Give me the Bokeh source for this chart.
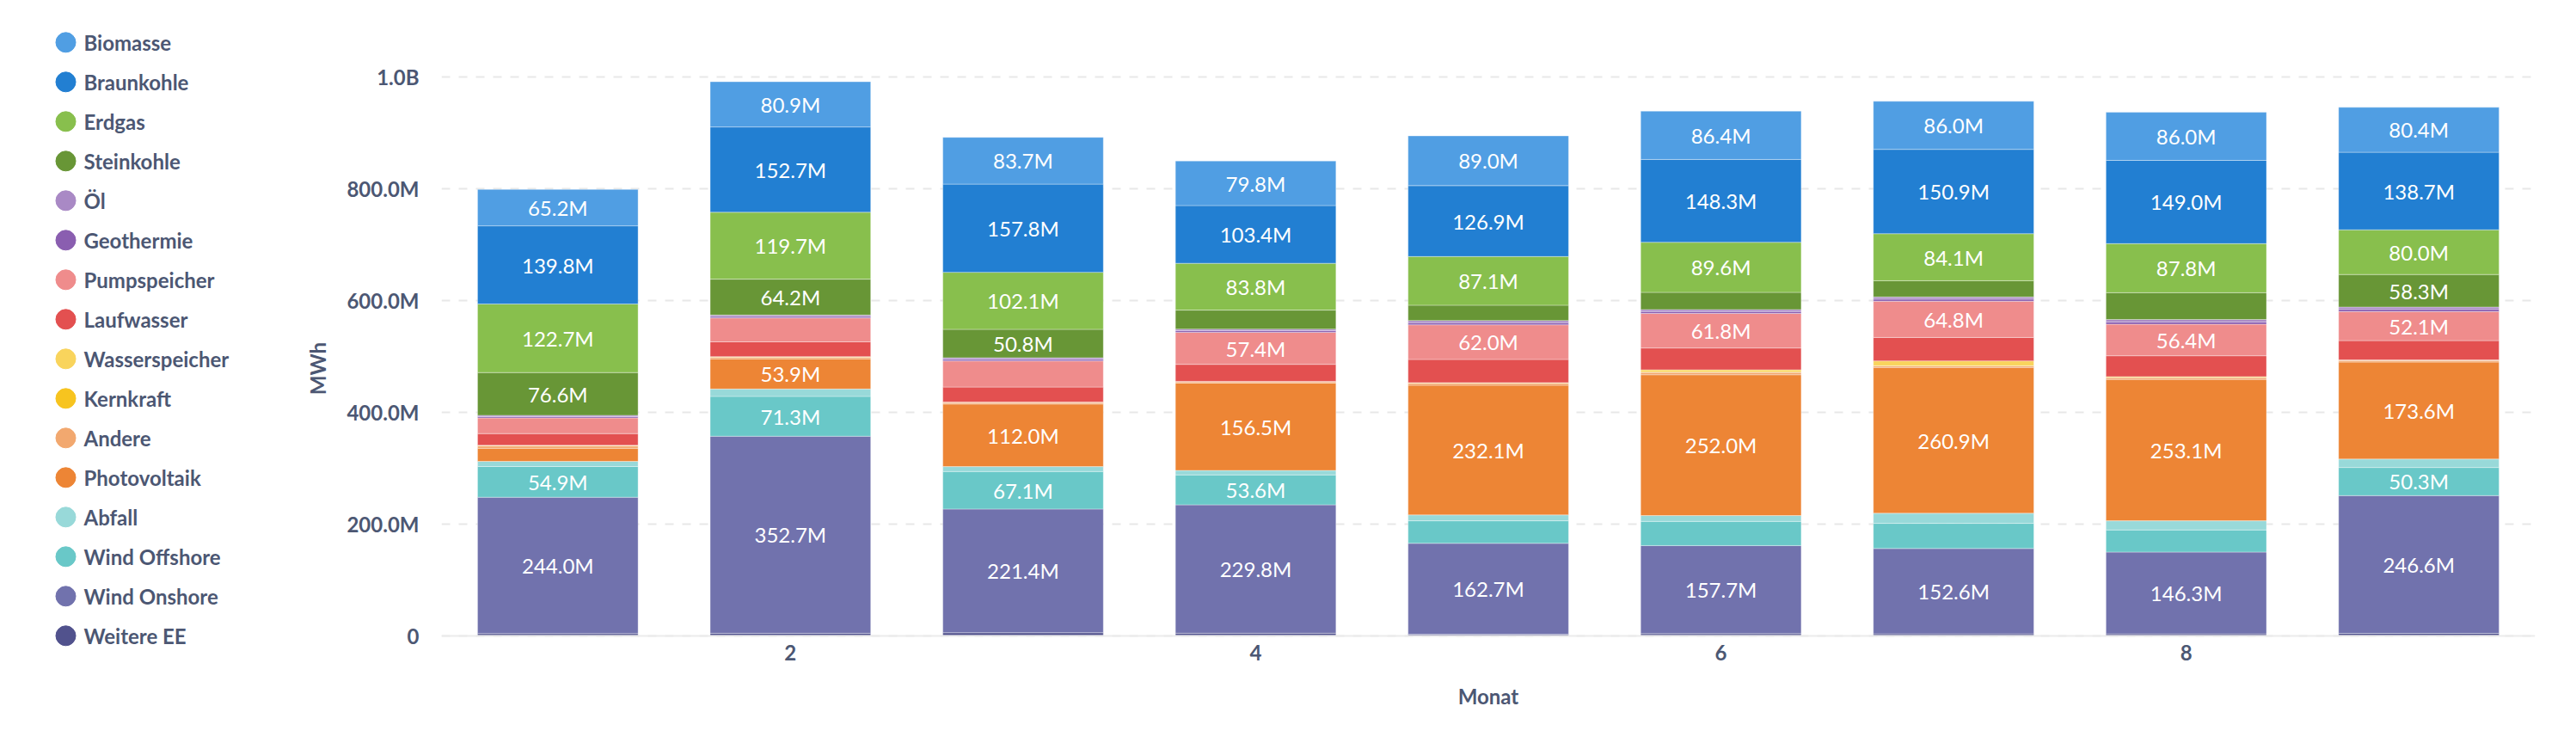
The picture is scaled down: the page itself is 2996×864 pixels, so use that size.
from bokeh.plotting import figure
from bokeh.models import ColumnDataSource, Range1d, FixedTicker
from bokeh.layouts import row
from bokeh.core.properties import value
from bokeh.embed import file_html
from bokeh.resources import INLINE

# ---------------- data (values in million MWh) ----------------
months = [1, 2, 3, 4, 5, 6, 7, 8, 9]

# stack order bottom -> top
series = ["Weitere EE", "Wind Onshore", "Wind Offshore", "Abfall", "Photovoltaik",
          "Andere", "Kernkraft", "Wasserspeicher", "Laufwasser", "Pumpspeicher",
          "Geothermie", "Öl", "Steinkohle", "Erdgas", "Braunkohle", "Biomasse"]
colors = ["#51528D", "#7172AD", "#69C8C8", "#98D9D9", "#ED8535",
          "#F2A86F", "#F7C41F", "#F9D45C", "#E35050", "#EF8C8C",
          "#8A5EB0", "#A989C5", "#689636", "#88BF4D", "#227FD2", "#509EE3"]

weitere_ee     = [3.5, 4.0, 5.0, 4.1, 2.3, 3.3, 3.1, 3.0, 3.8]
wind_onshore   = [244.0, 352.7, 221.4, 229.8, 162.7, 157.7, 152.6, 146.3, 246.6]
wind_offshore  = [54.9, 71.3, 67.1, 53.6, 40.3, 43.2, 45.0, 39.7, 50.3]
abfall         = [9.3, 13.2, 8.8, 7.9, 10.5, 10.5, 18.1, 16.3, 15.1]
photovoltaik   = [23.4, 53.9, 112.0, 156.5, 232.1, 252.0, 260.9, 253.1, 173.6]
andere         = [4.3, 3.0, 3.0, 2.5, 3.7, 4.5, 3.0, 3.5, 3.0]
kernkraft      = [0.0, 0.0, 0.0, 0.0, 0.0, 0.0, 0.0, 0.0, 0.0]
wasserspeicher = [1.0, 1.0, 0.5, 0.5, 1.0, 4.3, 8.8, 1.5, 1.0]
laufwasser     = [21.0, 26.5, 26.9, 30.4, 41.5, 39.1, 42.0, 37.3, 34.4]
pumpspeicher   = [28.0, 42.7, 46.7, 57.4, 62.0, 61.8, 64.8, 56.4, 52.1]
geothermie     = [2.3, 2.6, 2.9, 2.9, 3.8, 3.5, 3.8, 4.2, 4.0]
oel            = [2.4, 2.7, 2.9, 2.9, 3.8, 3.5, 3.8, 4.3, 4.0]
steinkohle     = [76.6, 64.2, 50.8, 33.9, 27.5, 30.8, 29.2, 48.0, 58.3]
erdgas         = [122.7, 119.7, 102.1, 83.8, 87.1, 89.6, 84.1, 87.8, 80.0]
braunkohle     = [139.8, 152.7, 157.8, 103.4, 126.9, 148.3, 150.9, 149.0, 138.7]
biomasse       = [65.2, 80.9, 83.7, 79.8, 89.0, 86.4, 86.0, 86.0, 80.4]

values = [weitere_ee, wind_onshore, wind_offshore, abfall, photovoltaik, andere,
          kernkraft, wasserspeicher, laufwasser, pumpspeicher, geothermie, oel,
          steinkohle, erdgas, braunkohle, biomasse]

y_ticks = [0, 200, 400, 600, 800, 1000]
y_tick_labels = ["0", "200.0M", "400.0M", "600.0M", "800.0M", "1.0B"]
x_ticks = [2, 4, 6, 8]

TEXT = "#4C5773"
FONT = "Lato"

# shared vertical frame for both panels of the row
HEIGHT = 864
BORDER_TOP = 26
BORDER_BOTTOM = 34
FRAME_BOTTOM = HEIGHT - BORDER_BOTTOM
# value axis geometry: 0 at y=738.5 px, 1000 at y=88.8 px
PX_ZERO, PX_TOP_TICK = 738.5, 88.8
k = (PX_ZERO - PX_TOP_TICK) / 1000.0
y_start = -(FRAME_BOTTOM - PX_ZERO) / k
y_end = 1000 + (PX_TOP_TICK - BORDER_TOP) / k

# ---------------- main chart ----------------
data = {"month": months}
for name, vals in zip(series, values):
    data[name] = vals
src = ColumnDataSource(data)

p = figure(width=2656, height=HEIGHT, output_backend="svg", toolbar_location=None,
           x_range=Range1d(0.5, 9.5), y_range=Range1d(y_start, y_end),
           min_border_left=173, min_border_right=48, min_border_top=BORDER_TOP,
           min_border_bottom=BORDER_BOTTOM)
p.outline_line_color = None
p.background_fill_color = "white"

p.vbar_stack(series, x="month", width=0.69, color=colors, source=src,
             line_color="white", line_alpha=0.35, line_width=1)

# segment labels
lx, ly, lt = [], [], []
bottom = [0.0] * len(months)
for name, vals in zip(series, values):
    for i, v in enumerate(vals):
        if v >= 50:
            lx.append(months[i])
            ly.append(bottom[i] + v / 2)
            lt.append(f"{v:.1f}M")
        bottom[i] += v
lsrc = ColumnDataSource(dict(x=lx, y=ly, t=lt))
p.text(x="x", y="y", text="t", source=lsrc, text_align="center",
       text_baseline="middle", text_color="white", text_font=value(FONT),
       text_font_size="24px")

# axes
p.yaxis.ticker = FixedTicker(ticks=y_ticks)
p.yaxis.major_label_overrides = {t: l for t, l in zip(y_ticks, y_tick_labels)}
p.yaxis.bounds = (0, 1000)
p.xaxis.ticker = FixedTicker(ticks=x_ticks)
p.xaxis.fixed_location = 0
p.xaxis.bounds = (0.5, 9.5)
p.xaxis.axis_label = "Monat"
p.yaxis.axis_label = "MWh"
for ax in (p.xaxis[0], p.yaxis[0]):
    ax.major_tick_line_color = None
    ax.minor_tick_line_color = None
    ax.major_label_text_font = FONT
    ax.major_label_text_font_size = "24px"
    ax.major_label_text_font_style = "bold"
    ax.major_label_text_color = TEXT
    ax.axis_label_text_font = FONT
    ax.axis_label_text_font_size = "24px"
    ax.axis_label_text_font_style = "bold"
    ax.axis_label_text_color = TEXT
p.yaxis.axis_line_color = None
p.yaxis.major_label_standoff = 20
p.yaxis.axis_label_standoff = 16
p.xaxis.axis_line_color = "#ECECEC"
p.xaxis.axis_line_width = 2
p.xaxis.major_label_standoff = 5
p.xaxis.axis_label_standoff = 23

p.xgrid.grid_line_color = None
p.ygrid.grid_line_color = "#E8E8E8"
p.ygrid.grid_line_width = 2
p.ygrid.grid_line_dash = "10 10"

# ---------------- legend (separate panel) ----------------
legend_order = list(reversed(series))          # Biomasse at top
legend_colors = list(reversed(colors))
ITEM_PX, FIRST_PX = 46.0, 48.8                 # row pitch / first row centre
lg = figure(width=340, height=HEIGHT, output_backend="svg", toolbar_location=None,
            x_range=Range1d(0, 340),
            y_range=Range1d((FRAME_BOTTOM - FIRST_PX) / ITEM_PX, (BORDER_TOP - FIRST_PX) / ITEM_PX),
            min_border_left=0, min_border_right=0, min_border_top=BORDER_TOP,
            min_border_bottom=BORDER_BOTTOM, x_axis_location=None, y_axis_location=None)
lg.outline_line_color = None
lg.xgrid.grid_line_color = None
lg.ygrid.grid_line_color = None
lsrc2 = ColumnDataSource(dict(name=legend_order, color=legend_colors,
                              idx=list(range(len(legend_order))),
                              cx=[76] * len(legend_order), tx=[97] * len(legend_order)))
lg.scatter(x="cx", y="idx", size=23, color="color", source=lsrc2)
lg.text(x="tx", y="idx", text="name", source=lsrc2, text_baseline="middle",
        text_align="left", text_color=TEXT, text_font=value(FONT),
        text_font_size="24px", text_font_style="bold")

layout = row(lg, p)
open("out.html", "w").write(file_html(layout, INLINE))
